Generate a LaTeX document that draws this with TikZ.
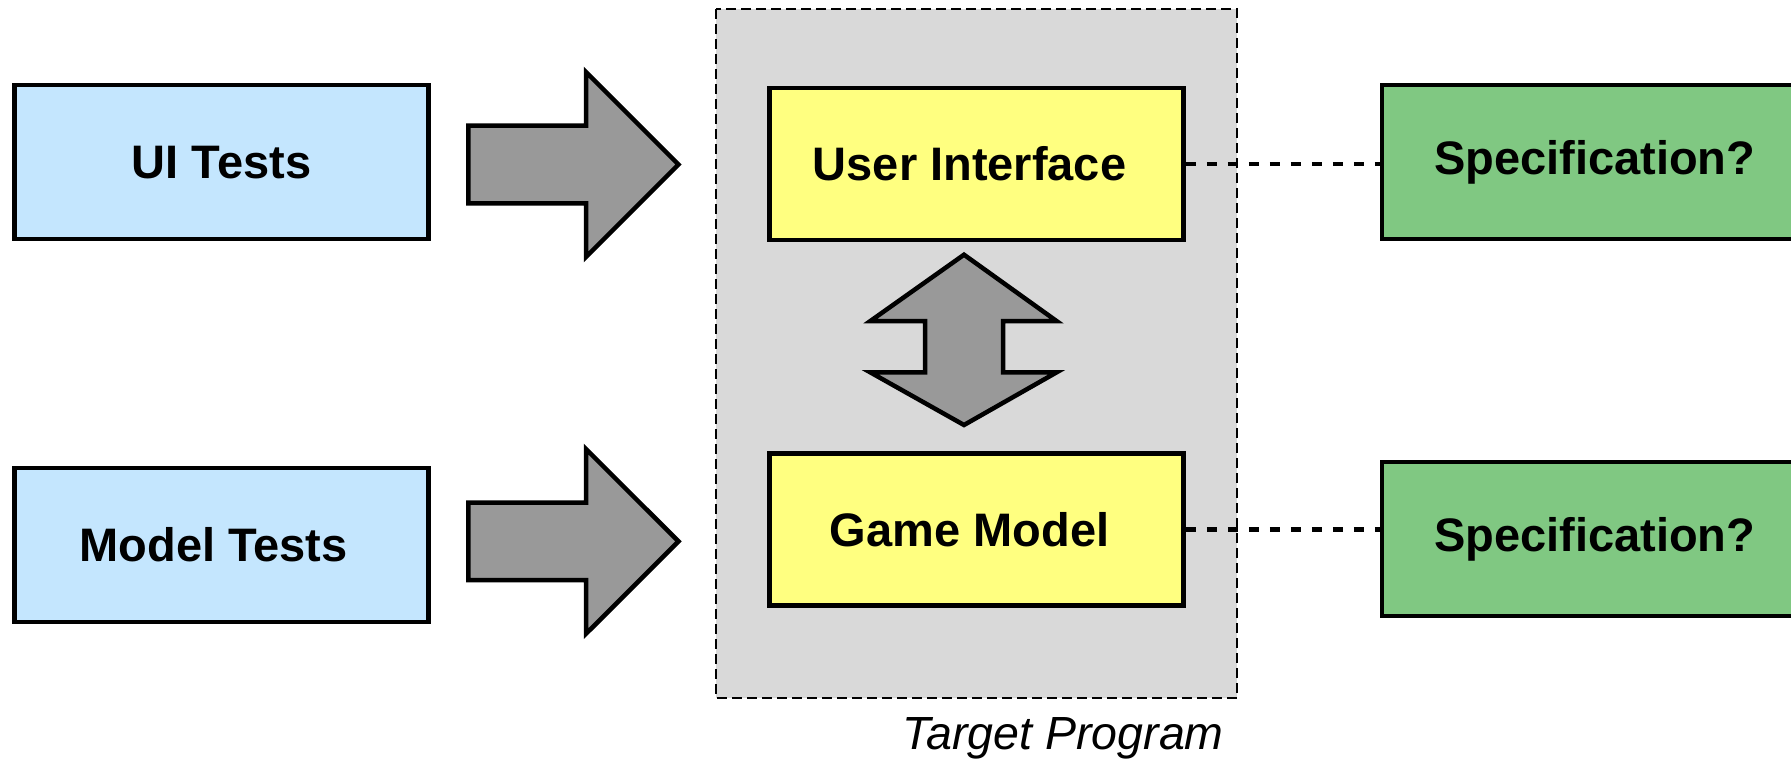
\documentclass[tikz,border=0pt]{standalone}
\usepackage{fontspec}
\setmainfont{Liberation Sans}
\definecolor{testblue}{HTML}{C4E6FE}
\definecolor{progyellow}{HTML}{FFFF80}
\definecolor{specgreen}{HTML}{80C882}
\definecolor{arrowgray}{HTML}{999999}
\definecolor{boxgray}{HTML}{D9D9D9}
\tikzset{
  blockbox/.style={draw=black, line width=4.5pt, minimum width=414pt, minimum height=154pt,
    inner sep=0pt, font=\fontsize{47}{50}\selectfont\bfseries},
  testbox/.style={blockbox, fill=testblue},
  progbox/.style={blockbox, fill=progyellow},
  specbox/.style={blockbox, fill=specgreen, minimum width=426pt},
  bigarrow/.style={draw=black, fill=arrowgray, line width=4.5pt, line join=miter},
  dotline/.style={draw=black, line width=4.5pt, dash pattern=on 10pt off 11pt},
  container/.style={draw=black, fill=boxgray, line width=1.1pt, dash pattern=on 10pt off 5pt}
}
\begin{document}
\begin{tikzpicture}[x=1pt, y=-1pt]
  \clip (0,0) rectangle (1791,760);
  % container
  \draw[container] (716,9) rectangle (1237,698);
  \node[font=\fontsize{46.5}{50}\selectfont\itshape] (tp) at (1063,738) {Target Program};
  % test boxes
  \node[testbox] (uit) at (221.6,162.2) {UI Tests};
  \node[testbox] (mt) at (221.6,545) {Model Tests\hspace*{16pt}};
  % program boxes
  \node[progbox, minimum height=152pt] (ui) at (976.6,164) {User Interface\hspace*{14pt}};
  \node[progbox, minimum height=152pt] (gm) at (976.6,529.3) {Game Model\hspace*{14pt}};
  % spec boxes
  \node[specbox] (s1) at (1594.75,162.2) {Specification?};
  \node[specbox] (s2) at (1594.75,539) {Specification?};
  % dotted links
  \draw[dotline] (ui.east) -- (ui.east -| s1.west);
  \draw[dotline] (gm.east) -- (gm.east -| s2.west);
  % block arrows
  \draw[bigarrow] (468.3,125.6) -- (586,125.6) -- (586,72) -- (678.5,164.5)
     -- (586,257) -- (586,203.3) -- (468.3,203.3) -- cycle;
  \draw[bigarrow] (468.3,502.5) -- (586,502.5) -- (586,449) -- (678.5,541.4)
     -- (586,633.8) -- (586,580.2) -- (468.3,580.2) -- cycle;
  % double arrow
  \draw[bigarrow] (964,254.7) -- (1056.5,321) -- (1003,321) -- (1003,372.4)
     -- (1056.5,372.4) -- (964,425) -- (870.4,372.4) -- (925,372.4)
     -- (925,321) -- (870.4,321) -- cycle;
\end{tikzpicture}
\end{document}
